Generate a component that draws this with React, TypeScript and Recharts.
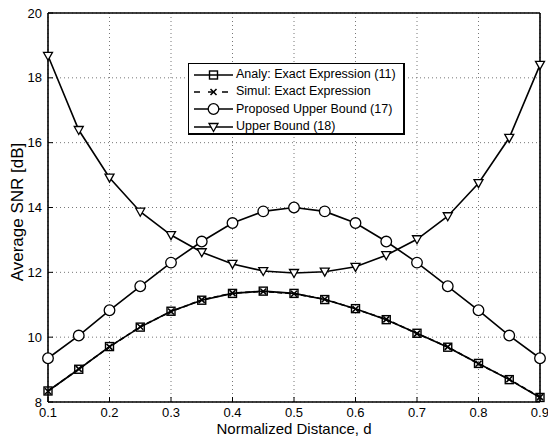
import React from 'react';
import {
  CartesianGrid,
  Legend,
  Line,
  LineChart,
  XAxis,
  YAxis,
} from 'recharts';

const distance = [0.1, 0.15, 0.2, 0.25, 0.3, 0.35, 0.4, 0.45, 0.5, 0.55, 0.6, 0.65, 0.7, 0.75, 0.8, 0.85, 0.9];
const analyExact = [8.34, 9.01, 9.71, 10.31, 10.8, 11.14, 11.35, 11.42, 11.35, 11.16, 10.88, 10.54, 10.12, 9.69, 9.19, 8.69, 8.14];
const simulExact = [8.33, 9.02, 9.7, 10.32, 10.79, 11.15, 11.36, 11.41, 11.34, 11.17, 10.87, 10.55, 10.11, 9.7, 9.18, 8.7, 8.15];
const proposedBound = [9.35, 10.05, 10.83, 11.57, 12.3, 12.95, 13.52, 13.88, 14.0, 13.88, 13.52, 12.95, 12.3, 11.57, 10.83, 10.05, 9.35];
const upperBound = [18.68, 16.39, 14.92, 13.87, 13.15, 12.62, 12.26, 12.04, 11.98, 12.02, 12.17, 12.53, 13.02, 13.73, 14.75, 16.15, 18.4];

const xTicks = [0.1, 0.2, 0.3, 0.4, 0.5, 0.6, 0.7, 0.8, 0.9];
const yTicks = [8, 10, 12, 14, 16, 18, 20];

const seriesNames = [
  'Analy: Exact Expression (11)',
  'Simul: Exact Expression',
  'Proposed Upper Bound (17)',
  'Upper Bound (18)',
];

const data = distance.map((d, i) => ({
  d,
  analy: analyExact[i],
  simul: simulExact[i],
  proposed: proposedBound[i],
  upper: upperBound[i],
}));

const font = '"Liberation Sans", Arial, Helvetica, sans-serif';
const tickStyle = { fontSize: 13, fontFamily: font, fill: '#000' };

const Square = ({ cx, cy }: { cx: number; cy: number }) => (
  <rect x={cx - 4} y={cy - 4} width={8} height={8} fill="none" stroke="#000" strokeWidth={1.4} />
);
const Cross = ({ cx, cy }: { cx: number; cy: number }) => (
  <g stroke="#000" strokeWidth={1.6}>
    <line x1={cx - 3} y1={cy - 3} x2={cx + 3} y2={cy + 3} />
    <line x1={cx - 3} y1={cy + 3} x2={cx + 3} y2={cy - 3} />
  </g>
);
const Ring = ({ cx, cy }: { cx: number; cy: number }) => (
  <circle cx={cx} cy={cy} r={5.3} fill="#fff" stroke="#000" strokeWidth={1.3} />
);
const Tri = ({ cx, cy }: { cx: number; cy: number }) => (
  <polygon
    points={`${cx - 4.5},${cy - 3.5} ${cx + 4.5},${cy - 3.5} ${cx},${cy + 4.5}`}
    fill="#fff"
    stroke="#000"
    strokeWidth={1.3}
  />
);

const markers = [Square, Cross, Ring, Tri];

function dotFor(Marker: typeof Square, tag: string) {
  return (p: any) => <Marker key={`${tag}-${p.index}`} cx={p.cx} cy={p.cy} />;
}

function LegendBox() {
  return (
    <div
      style={{
        width: 217,
        height: 72,
        border: '1.5px solid #000',
        borderRightWidth: 2,
        borderBottomWidth: 2,
        background: '#fff',
        fontFamily: font,
        fontSize: 12.5,
        paddingTop: 2,
        boxSizing: 'border-box',
      }}
    >
      {seriesNames.map((name, i) => {
        const M = markers[i];
        return (
          <div key={name} style={{ display: 'flex', alignItems: 'center', height: 17.3, lineHeight: '17px' }}>
            <svg width={47} height={16} style={{ flex: 'none' }}>
              <line
                x1={5}
                y1={8}
                x2={44}
                y2={8}
                stroke="#000"
                strokeWidth={1.5}
                strokeDasharray={i === 1 ? '6 8' : undefined}
              />
              <M cx={24.5} cy={8} />
            </svg>
            <span style={{ whiteSpace: 'nowrap' }}>{name}</span>
          </div>
        );
      })}
    </div>
  );
}

const frame = { stroke: '#000', strokeWidth: 1.6 };
const lineW = 1.6;

export default function App() {
  return (
    <div style={{ position: 'absolute', left: 0, top: 0, width: 548, height: 438, background: '#fff' }}>
      <LineChart width={548} height={438} data={data} margin={{ top: 12, right: 7, bottom: 35, left: 47 }}>
        <CartesianGrid stroke="#777" strokeDasharray="1 3" />
        <XAxis
          dataKey="d"
          type="number"
          domain={[0.1, 0.9]}
          ticks={xTicks}
          height={1}
          tickSize={-5}
          tickMargin={11}
          tick={tickStyle}
          tickLine={{ stroke: '#000' }}
          axisLine={frame}
        />
        <XAxis
          xAxisId="top"
          orientation="top"
          dataKey="d"
          type="number"
          domain={[0.1, 0.9]}
          ticks={xTicks}
          height={1}
          tickSize={-5}
          tick={false}
          tickLine={{ stroke: '#000' }}
          axisLine={frame}
        />
        <YAxis
          type="number"
          domain={[8, 20]}
          ticks={yTicks}
          width={1}
          tickSize={-5}
          tickMargin={11}
          tick={tickStyle}
          tickLine={{ stroke: '#000' }}
          axisLine={frame}
        />
        <YAxis
          yAxisId="right"
          orientation="right"
          type="number"
          domain={[8, 20]}
          ticks={yTicks}
          width={1}
          tickSize={-5}
          tick={false}
          tickLine={{ stroke: '#000' }}
          axisLine={frame}
        />
        <Legend
          layout="vertical"
          align="center"
          verticalAlign="middle"
          wrapperStyle={{ left: 188, top: 63, width: 218 }}
          content={() => <LegendBox />}
        />
        <Line dataKey="analy" stroke="#000" strokeWidth={lineW} dot={dotFor(Square, 'a')} isAnimationActive={false} />
        <Line
          dataKey="simul"
          stroke="#000"
          strokeWidth={lineW}
          strokeDasharray="5 3"
          dot={dotFor(Cross, 's')}
          isAnimationActive={false}
        />
        <Line dataKey="proposed" stroke="#000" strokeWidth={lineW} dot={dotFor(Ring, 'p')} isAnimationActive={false} />
        <Line dataKey="upper" stroke="#000" strokeWidth={lineW} dot={dotFor(Tri, 'u')} isAnimationActive={false} />
      </LineChart>
      <div
        style={{
          position: 'absolute',
          left: 294,
          top: 428,
          transform: 'translate(-50%, -50%)',
          fontFamily: font,
          fontSize: 15,
          whiteSpace: 'nowrap',
        }}
      >
        Normalized Distance, d
      </div>
      <div
        style={{
          position: 'absolute',
          left: 18,
          top: 212,
          transform: 'translate(-50%, -50%) rotate(-90deg)',
          fontFamily: font,
          fontSize: 17,
          whiteSpace: 'nowrap',
        }}
      >
        Average SNR [dB]
      </div>
    </div>
  );
}
